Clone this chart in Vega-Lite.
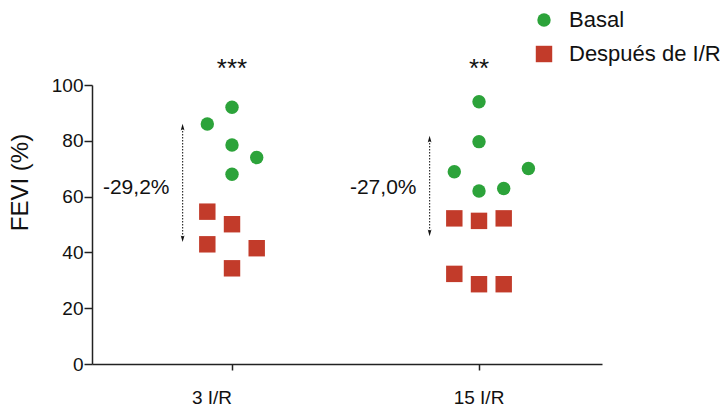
{
  "$schema": "https://vega.github.io/schema/vega-lite/v6.json",
  "width": 510,
  "height": 279,
  "autosize": "none",
  "padding": {"left": 92, "top": 85, "right": 118, "bottom": 42},
  "background": "white",
  "config": {
    "font": "Liberation Sans",
    "view": {"stroke": null},
    "axis": {"labelFont": "Liberation Sans", "titleFont": "Liberation Sans", "domainColor": "#222", "tickColor": "#222", "labelColor": "#111", "titleColor": "#111", "grid": false}
  },
  "datasets": {
    "fevi": [
      {"grupo": "3 I/R", "condicion": "Basal", "col": -1, "fevi": 86},
      {"grupo": "3 I/R", "condicion": "Basal", "col": 0, "fevi": 92},
      {"grupo": "3 I/R", "condicion": "Basal", "col": 0, "fevi": 78.5},
      {"grupo": "3 I/R", "condicion": "Basal", "col": 1, "fevi": 74},
      {"grupo": "3 I/R", "condicion": "Basal", "col": 0, "fevi": 68},
      {"grupo": "3 I/R", "condicion": "Después de I/R", "col": -1, "fevi": 54.6},
      {"grupo": "3 I/R", "condicion": "Después de I/R", "col": 0, "fevi": 50.1},
      {"grupo": "3 I/R", "condicion": "Después de I/R", "col": -1, "fevi": 42.9},
      {"grupo": "3 I/R", "condicion": "Después de I/R", "col": 1, "fevi": 41.5},
      {"grupo": "3 I/R", "condicion": "Después de I/R", "col": 0, "fevi": 34.3},
      {"grupo": "15 I/R", "condicion": "Basal", "col": 0, "fevi": 94},
      {"grupo": "15 I/R", "condicion": "Basal", "col": 0, "fevi": 79.7},
      {"grupo": "15 I/R", "condicion": "Basal", "col": -1, "fevi": 68.9},
      {"grupo": "15 I/R", "condicion": "Basal", "col": 2, "fevi": 70.1},
      {"grupo": "15 I/R", "condicion": "Basal", "col": 0, "fevi": 62},
      {"grupo": "15 I/R", "condicion": "Basal", "col": 1, "fevi": 62.9},
      {"grupo": "15 I/R", "condicion": "Después de I/R", "col": -1, "fevi": 52.2},
      {"grupo": "15 I/R", "condicion": "Después de I/R", "col": 0, "fevi": 51.3},
      {"grupo": "15 I/R", "condicion": "Después de I/R", "col": 1, "fevi": 52.2},
      {"grupo": "15 I/R", "condicion": "Después de I/R", "col": -1, "fevi": 32.3},
      {"grupo": "15 I/R", "condicion": "Después de I/R", "col": 0, "fevi": 28.6},
      {"grupo": "15 I/R", "condicion": "Después de I/R", "col": 1, "fevi": 28.6}
    ],
    "cambio": [
      {"grupo": "3 I/R", "desde": 84.6, "hasta": 45.2, "etiqueta": "-29,2%", "medio": 63, "signif": "***"},
      {"grupo": "15 I/R", "desde": 80.3, "hasta": 47.3, "etiqueta": "-27,0%", "medio": 63, "signif": "**"}
    ]
  },
  "encoding": {
    "x": {
      "field": "grupo",
      "type": "nominal",
      "sort": ["3 I/R", "15 I/R"],
      "scale": {"paddingInner": 0.1, "paddingOuter": 0.0824, "align": 0.709},
      "axis": {
        "title": null,
        "labelAngle": 0,
        "labelFontSize": 19,
        "labelPadding": 18,
        "labelAlign": {"condition": {"test": "datum.value === '3 I/R'", "value": "right"}, "value": "center"},
        "tickSize": 6,
        "domainWidth": 1.5,
        "tickWidth": 1.5
      }
    }
  },
  "layer": [
    {
      "data": {"name": "fevi"},
      "mark": {"type": "point", "filled": true, "opacity": 1},
      "encoding": {
        "xOffset": {"field": "col", "type": "ordinal", "scale": {"domain": [-4, -3, -2, -1, 0, 1, 2, 3, 4], "paddingInner": 0, "paddingOuter": 0}},
        "y": {
          "field": "fevi",
          "type": "quantitative",
          "scale": {"domain": [0, 100]},
          "axis": {"title": "FEVI (%)", "titleFontSize": 24, "titleFontWeight": "normal", "titleX": -60, "titleY": 97, "titleAngle": -90, "labelFontSize": 19, "labelPadding": 1, "tickSize": 8, "values": [0, 20, 40, 60, 80, 100], "domainWidth": 1.5, "tickWidth": 1.5}
        },
        "shape": {
          "field": "condicion",
          "type": "nominal",
          "scale": {"domain": ["Basal", "Después de I/R"], "range": ["circle", "square"]},
          "legend": {"title": null, "orient": "none", "legendX": 441, "legendY": -76, "labelFontSize": 22, "labelColor": "#111", "symbolSize": 230, "rowPadding": 12, "labelOffset": 14, "padding": 0}
        },
        "color": {
          "field": "condicion",
          "type": "nominal",
          "scale": {"domain": ["Basal", "Después de I/R"], "range": ["#2ca33a", "#c23b2a"]},
          "legend": {"title": null, "orient": "none", "legendX": 441, "legendY": -76, "labelFontSize": 22, "labelColor": "#111", "symbolSize": 230, "rowPadding": 12, "labelOffset": 14, "padding": 0}
        },
        "size": {
          "field": "condicion",
          "type": "nominal",
          "scale": {"domain": ["Basal", "Después de I/R"], "range": [180, 270]},
          "legend": null
        }
      }
    },
    {
      "data": {"name": "cambio"},
      "mark": {"type": "rule", "strokeDash": [1.5, 1.5], "strokeWidth": 1.2, "color": "#333"},
      "encoding": {
        "xOffset": {"datum": -2, "type": "ordinal"},
        "y": {"field": "desde", "type": "quantitative"},
        "y2": {"field": "hasta"}
      }
    },
    {
      "data": {"name": "cambio"},
      "mark": {"type": "point", "filled": true, "color": "#111", "opacity": 1, "size": 70, "shape": "M0,-1L0.45,0.6L0,0.25L-0.45,0.6Z"},
      "encoding": {
        "xOffset": {"datum": -2, "type": "ordinal"},
        "y": {"field": "desde", "type": "quantitative"}
      }
    },
    {
      "data": {"name": "cambio"},
      "mark": {"type": "point", "filled": true, "color": "#111", "opacity": 1, "size": 70, "shape": "M0,1L0.45,-0.6L0,-0.25L-0.45,-0.6Z"},
      "encoding": {
        "xOffset": {"datum": -2, "type": "ordinal"},
        "y": {"field": "hasta", "type": "quantitative"}
      }
    },
    {
      "data": {"name": "cambio"},
      "mark": {"type": "text", "fontSize": 21, "color": "#111", "align": "center", "baseline": "middle", "dx": 3},
      "encoding": {
        "xOffset": {"datum": -4, "type": "ordinal"},
        "y": {"field": "medio", "type": "quantitative"},
        "text": {"field": "etiqueta"}
      }
    },
    {
      "data": {"name": "cambio"},
      "mark": {"type": "text", "fontSize": 26, "color": "#111", "align": "center", "baseline": "top"},
      "encoding": {
        "xOffset": {"datum": 0, "type": "ordinal"},
        "y": {"datum": 110.5, "type": "quantitative"},
        "text": {"field": "signif"}
      }
    }
  ]
}
